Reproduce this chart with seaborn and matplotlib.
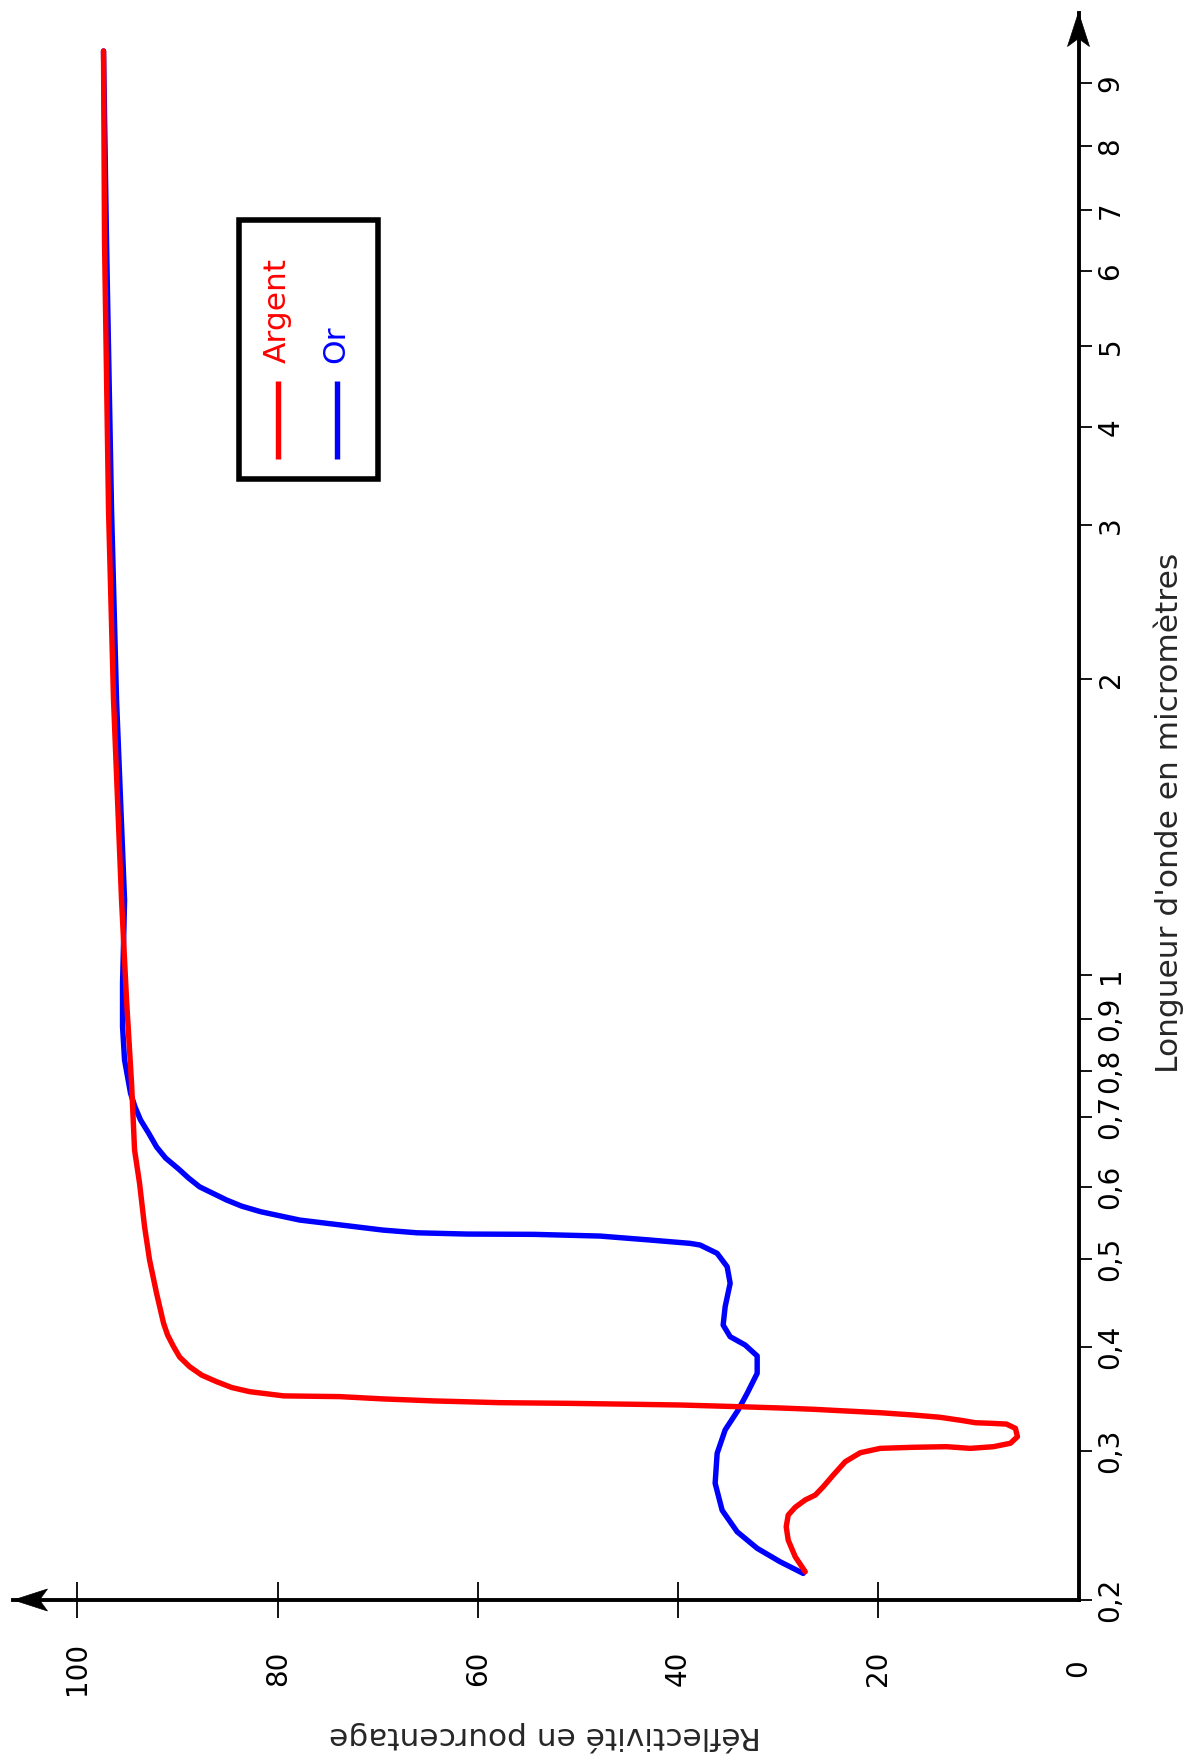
import numpy as np
import pandas as pd
import matplotlib
matplotlib.use("Agg")
import matplotlib.pyplot as plt
import matplotlib.transforms as mtransforms
from matplotlib.patches import Rectangle, Polygon
from matplotlib.ticker import FixedLocator, NullLocator
import seaborn as sns

# ---------------- data ----------------
argent_reflectivite = [27.3, 28.3, 29.0, 29.2, 29.0, 28.3, 27.3, 26.3, 25.5, 24.5,
                       23.3, 21.8, 19.8, 16.5, 13.2, 10.8, 8.5, 6.8, 6.1, 6.3,
                       7.2, 8.8, 10.3, 11.5, 13.8, 16.5, 19.8, 23.2, 26.5, 29.8,
                       33.8, 39.8, 44.5, 51.1, 57.8, 64.5, 69.5, 73.8, 79.4, 82.8,
                       84.6, 86.1, 87.6, 88.8, 89.8, 90.4, 91.0, 91.4, 92.1, 92.8,
                       93.3, 93.8, 94.3, 94.6, 95.1, 95.6, 96.4, 96.9, 97.3, 97.4]
argent_longueur = [0.216, 0.225, 0.2354, 0.2441, 0.252, 0.2574, 0.2626, 0.2661, 0.2722, 0.281,
                   0.2914, 0.2986, 0.3022, 0.3031, 0.3036, 0.3022, 0.3036, 0.3065, 0.3121, 0.3194,
                   0.3232, 0.3239, 0.3244, 0.3262, 0.3293, 0.3314, 0.3335, 0.3351, 0.3367, 0.3379,
                   0.3391, 0.3407, 0.3414, 0.3423, 0.3429, 0.3446, 0.3465, 0.3487, 0.3494, 0.3535,
                   0.3576, 0.3634, 0.3701, 0.3788, 0.3891, 0.4003, 0.4123, 0.4247, 0.4583, 0.4987,
                   0.5426, 0.6049, 0.651, 0.7719, 0.9419, 1.192, 1.904, 3.135, 6.456, 9.555]

or_reflectivite = [27.5, 29.8, 32.1, 34.1, 35.6, 36.3, 36.1, 35.3, 34.0, 33.1,
                   32.1, 32.1, 33.3, 34.8, 35.5, 35.3, 34.8, 35.1, 36.1, 37.8,
                   38.8, 42.8, 47.8, 54.4, 61.1, 66.1, 69.5, 72.8, 77.8, 81.7,
                   83.6, 85.1, 87.8, 88.9, 89.9, 91.2, 92.1, 92.9, 93.7, 94.25,
                   94.7, 95.3, 95.5, 95.5, 95.4, 95.3, 96.1, 96.6, 97.1, 97.4]
or_longueur = [0.215, 0.2219, 0.2302, 0.2408, 0.2553, 0.2748, 0.2981, 0.318, 0.336, 0.3519,
               0.3719, 0.3902, 0.402, 0.4106, 0.4229, 0.443, 0.4701, 0.4903, 0.5072, 0.518,
               0.5202, 0.5246, 0.5299, 0.5322, 0.5326, 0.5343, 0.538, 0.5435, 0.5518, 0.5636,
               0.5716, 0.5805, 0.6002, 0.6119, 0.6243, 0.6395, 0.6553, 0.6757, 0.6954, 0.7206,
               0.7498, 0.8202, 0.8845, 0.9803, 1.077, 1.192, 1.904, 3.135, 6.456, 9.555]

wl_ticks = [0.2, 0.3, 0.4, 0.5, 0.6, 0.7, 0.8, 0.9, 1, 2, 3, 4, 5, 6, 7, 8, 9]
wl_labels = ["0,2", "0,3", "0,4", "0,5", "0,6", "0,7", "0,8", "0,9",
             "1", "2", "3", "4", "5", "6", "7", "8", "9"]
refl_ticks = [0, 20, 40, 60, 80, 100]
refl_labels = ["0", "20", "40", "60", "80", "100"]

# ---------------- the hand-drawn (quasi-log) wavelength scale ----------------
# relative spacing of the wavelength ticks on the original axis
scale_spacing = np.array([0, 149, 253, 341, 413, 483, 529, 581, 625,
                          921, 1075, 1173, 1254, 1329, 1390, 1454, 1517], float)
scale_logs = np.log10(np.array(wl_ticks, float))


def _lin_extrap(v, xs, ys):
    v = np.asarray(v, float)
    out = np.interp(v, xs, ys)
    lo = v < xs[0]
    hi = v > xs[-1]
    s0 = (ys[1] - ys[0]) / (xs[1] - xs[0])
    s1 = (ys[-1] - ys[-2]) / (xs[-1] - xs[-2])
    out = np.where(lo, ys[0] + (v - xs[0]) * s0, out)
    out = np.where(hi, ys[-1] + (v - xs[-1]) * s1, out)
    return out


def wl_forward(w):
    w = np.clip(np.asarray(w, float), 1e-6, None)
    return _lin_extrap(np.log10(w), scale_logs, scale_spacing)


def wl_inverse(p):
    return 10 ** _lin_extrap(p, scale_spacing, scale_logs)


# ---------------- figure ----------------
sns.set_style("white")
plt.rcParams["font.family"] = ["DejaVu Sans"]

W, H = 1189, 1762
fig = plt.figure(figsize=(W / 100, H / 100), dpi=100)
x0, x1 = 13.5, 1078.5
y_top, y_bot = 12.5, 1600
ax = fig.add_axes([x0 / W, 1 - y_bot / H, (x1 - x0) / W, (y_bot - y_top) / H])

ax.set_yscale("function", functions=(wl_forward, wl_inverse))
ax.set_ylim(0.2, float(wl_inverse(1517 + 70.5)))
ax.set_xlim((x1 - x0) / 10.01, 0)

df_ag = pd.DataFrame({"refl": argent_reflectivite, "wl": argent_longueur})
df_or = pd.DataFrame({"refl": or_reflectivite, "wl": or_longueur})

sns.lineplot(data=df_or, x="refl", y="wl", sort=False, estimator=None,
             color="#0000ff", lw=3.9, ax=ax, solid_joinstyle="round")
sns.lineplot(data=df_ag, x="refl", y="wl", sort=False, estimator=None,
             color="#ff0000", lw=3.9, ax=ax, solid_joinstyle="round")

# spines
for s in ["left", "top"]:
    ax.spines[s].set_visible(False)
for s in ["right", "bottom"]:
    ax.spines[s].set_visible(True)
    ax.spines[s].set_linewidth(2.8)
    ax.spines[s].set_color("black")

# wavelength axis (right)
ax.yaxis.tick_right()
ax.yaxis.set_major_locator(FixedLocator(wl_ticks))
ax.yaxis.set_minor_locator(NullLocator())
ax.set_yticklabels(wl_labels, rotation=90, va="center", fontsize=20)
ax.tick_params(axis="y", which="major", direction="out", length=9, width=1.3,
               pad=4, colors="black", right=True, left=False)

# reflectivity axis (bottom)
ax.set_xticks(refl_ticks)
ax.set_xticklabels(refl_labels, rotation=90, va="center", fontsize=20)
ax.xaxis.set_minor_locator(NullLocator())
ax.tick_params(axis="x", which="major", direction="inout", length=26, width=1.3,
               pad=36, colors="black", bottom=True, top=False)
ax.xaxis.get_major_ticks()[0].tick1line.set_visible(False)

# axis labels
ax.set_xlabel("Réflectivité en pourcentage", rotation=180, fontsize=22.5,
              va="center", ha="center")
ax.xaxis.set_label_coords((545 - x0) / (x1 - x0), (y_bot - 1736) / (y_bot - y_top))
ax.yaxis.set_label_position("right")
ax.set_ylabel("Longueur d'onde en micromètres", rotation=90, fontsize=22.5,
              va="center", ha="center")
ax.yaxis.set_label_coords((1169 - x0) / (x1 - x0), (y_bot - 813) / (y_bot - y_top))

ax.grid(False)

# arrow heads at the ends of the axes
tr_top = fig.dpi_scale_trans + mtransforms.ScaledTranslation(1, 1, ax.transAxes)
ax.add_patch(Polygon([(0, 0), (-0.11, -0.34), (0, -0.26), (0.11, -0.34)],
                     closed=True, transform=tr_top, facecolor="black",
                     edgecolor="black", lw=0.5, clip_on=False, zorder=5))
tr_left = fig.dpi_scale_trans + mtransforms.ScaledTranslation(0, 0, ax.transAxes)
ax.add_patch(Polygon([(0, 0), (0.34, 0.11), (0.26, 0), (0.34, -0.11)],
                     closed=True, transform=tr_left, facecolor="black",
                     edgecolor="black", lw=0.5, clip_on=False, zorder=5))

# legend (drawn rotated, as in the original)
def fx(px):
    return (px - x0) / (x1 - x0)


def fy(py):
    return (y_bot - py) / (y_bot - y_top)


ax.add_patch(Rectangle((fx(239), fy(479)), fx(378) - fx(239), fy(220) - fy(479),
                       transform=ax.transAxes, facecolor="white", edgecolor="black",
                       lw=4, zorder=6))
ax.plot([fx(278), fx(278)], [fy(459), fy(381)], transform=ax.transAxes,
        color="#ff0000", lw=3.9, zorder=7, solid_capstyle="butt")
ax.plot([fx(337), fx(337)], [fy(459), fy(381)], transform=ax.transAxes,
        color="#0000ff", lw=3.9, zorder=7, solid_capstyle="butt")
ax.text(fx(277), fy(363), "Argent", rotation=90, ha="center", va="bottom",
        transform=ax.transAxes, color="#ff0000", fontsize=22.5, zorder=7)
ax.text(fx(336), fy(363), "Or", rotation=90, ha="center", va="bottom",
        transform=ax.transAxes, color="#0000ff", fontsize=22.5, zorder=7)

fig.savefig("out.png", dpi=100, facecolor="white")
